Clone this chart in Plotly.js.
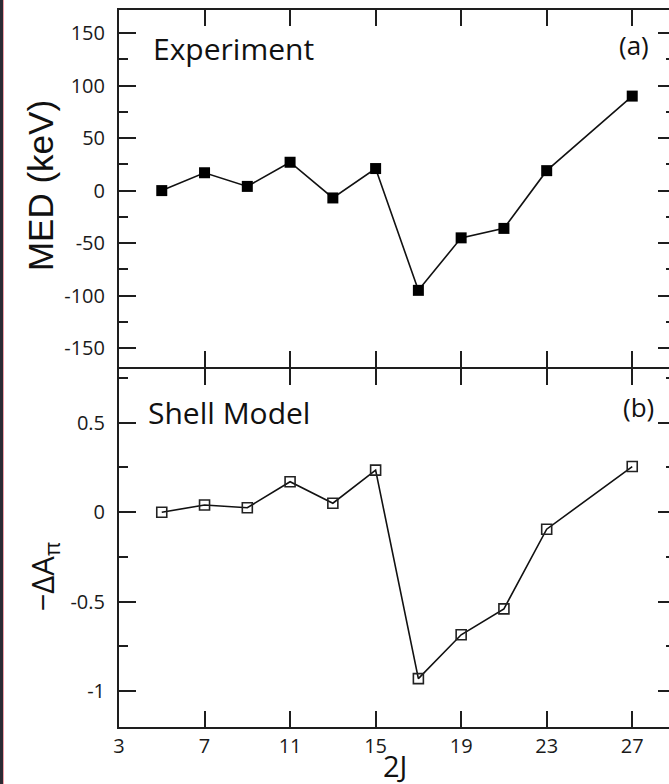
<!DOCTYPE html>
<html>
<head>
<meta charset="utf-8">
<script src="https://cdn.plot.ly/plotly-3.0.1.min.js"></script>
<style>
  html, body { margin: 0; padding: 0; background: #ffffff; overflow: hidden; }
  #chart { position: absolute; left: 0; top: 0; }
  #edge1 { position: absolute; left: 0; top: 0; width: 3px; height: 784px; background: #2b2b33; z-index: 5; }
  #edge2 { position: absolute; left: 3px; top: 0; width: 1px; height: 784px; background: #f0a0a8; z-index: 5; }
</style>
</head>
<body>
<div id="chart"></div>
<div id="edge1"></div>
<div id="edge2"></div>
<script>
// 2J values
const twoJ = [5, 7, 9, 11, 13, 15, 17, 19, 21, 23, 27];
// (a) Experiment: MED (keV)
const medExp = [0, 17, 4, 27, -7, 21, -95, -45, -36, 19, 90];
// (b) Shell model: -Delta A_pi
const dApi = [0, 0.04, 0.025, 0.17, 0.05, 0.235, -0.93, -0.685, -0.54, -0.095, 0.255];

// tick labels
const xTickVals = [3, 7, 11, 15, 19, 23, 27];
const xTickText = ["3", "7", "11", "15", "19", "23", "27"];
const yaTickVals = [150, 100, 50, 0, -50, -100, -150];
const yaTickText = ["150", "100", "50", "0", "-50", "-100", "-150"];
const ybTickVals = [0.5, 0, -0.5, -1];
const ybTickText = ["0.5", "0", "-0.5", "-1"];

const axisCol = '#1e1e1e';
const tickFont = { family: 'Open Sans, sans-serif', size: 20, color: '#1a1a1a' };

const traces = [
  {
    x: twoJ, y: medExp, xaxis: 'x2', yaxis: 'y2', type: 'scatter', mode: 'lines+markers',
    line: { color: '#111', width: 1.6 },
    marker: { symbol: 'square', size: 11, color: '#000' },
    showlegend: false, hoverinfo: 'none'
  },
  {
    x: twoJ, y: dApi, xaxis: 'x', yaxis: 'y', type: 'scatter', mode: 'lines+markers',
    line: { color: '#111', width: 1.6 },
    marker: { symbol: 'square-open', size: 10, color: '#222', line: { width: 1.6, color: '#222' } },
    showlegend: false, hoverinfo: 'none'
  }
];

const commonX = {
  range: [3, 29], tickmode: 'array', tickvals: xTickVals, ticktext: xTickText,
  ticks: 'inside', ticklen: 16, tickwidth: 2, tickcolor: axisCol,
  showline: true, linecolor: axisCol, linewidth: 2, mirror: 'allticks',
  showgrid: false, zeroline: false, tickfont: tickFont
};

const layout = {
  width: 680, height: 784,
  margin: { l: 119, r: 5, t: 10, b: 57 },
  paper_bgcolor: '#ffffff', plot_bgcolor: '#ffffff',
  xaxis: Object.assign({}, commonX, { anchor: 'y', domain: [0, 1], ticklabelstandoff: 0 }),
  xaxis2: Object.assign({}, commonX, { anchor: 'y2', domain: [0, 1], matches: 'x', showticklabels: false }),
  yaxis: {
    domain: [0, 0.4993], anchor: 'x', range: [-1.2, 0.8],
    tickmode: 'array', tickvals: ybTickVals, ticktext: ybTickText,
    ticks: 'inside', ticklen: 17, tickwidth: 2, tickcolor: axisCol,
    minor: { dtick: 0.25, tick0: 0, ticks: 'inside', ticklen: 9, tickwidth: 2, tickcolor: axisCol },
    showline: true, linecolor: axisCol, linewidth: 2, mirror: 'allticks',
    showgrid: false, zeroline: false, tickfont: tickFont, ticklabelstandoff: 8
  },
  yaxis2: {
    domain: [0.5021, 1], anchor: 'x2', range: [-168, 172],
    tickmode: 'array', tickvals: yaTickVals, ticktext: yaTickText,
    ticks: 'inside', ticklen: 17, tickwidth: 2, tickcolor: axisCol,
    minor: { dtick: 25, tick0: 0, ticks: 'inside', ticklen: 9, tickwidth: 2, tickcolor: axisCol },
    showline: true, linecolor: axisCol, linewidth: 2, mirror: 'allticks',
    showgrid: false, zeroline: false, tickfont: tickFont, ticklabelstandoff: 8
  },
  annotations: [
    { text: 'MED (keV)', xref: 'paper', yref: 'paper', x: -0.142, y: 0.7545, textangle: -90,
      showarrow: false, xanchor: 'center', yanchor: 'middle',
      font: { family: 'Liberation Sans, Arial, sans-serif', size: 35, color: '#111' } },
    { text: '\u2212\u0394A<sub>\u03c0</sub>', xref: 'paper', yref: 'paper', x: -0.135, y: 0.21, textangle: -90,
      showarrow: false, xanchor: 'center', yanchor: 'middle',
      font: { family: 'Open Sans, sans-serif', size: 31, color: '#111' } },
    { text: '2J', xref: 'paper', yref: 'paper', x: 0.496, y: -0.054,
      showarrow: false, xanchor: 'center', yanchor: 'middle',
      font: { family: 'Open Sans, sans-serif', size: 29, color: '#111' } },
    { text: 'Experiment', xref: 'paper', yref: 'paper', x: 0.058, y: 0.947,
      showarrow: false, xanchor: 'left', yanchor: 'middle',
      font: { family: 'Open Sans, sans-serif', size: 30, color: '#111' } },
    { text: 'Shell Model', xref: 'paper', yref: 'paper', x: 0.048, y: 0.4393,
      showarrow: false, xanchor: 'left', yanchor: 'middle',
      font: { family: 'Open Sans, sans-serif', size: 30, color: '#111' } },
    { text: '(a)', xref: 'paper', yref: 'paper', x: 0.957, y: 0.951,
      showarrow: false, xanchor: 'right', yanchor: 'middle',
      font: { family: 'Open Sans, sans-serif', size: 26, color: '#111' } },
    { text: '(b)', xref: 'paper', yref: 'paper', x: 0.966, y: 0.446,
      showarrow: false, xanchor: 'right', yanchor: 'middle',
      font: { family: 'Open Sans, sans-serif', size: 26, color: '#111' } }
  ]
};

Plotly.newPlot('chart', traces, layout, { staticPlot: true, displayModeBar: false });
</script>
</body>
</html>
